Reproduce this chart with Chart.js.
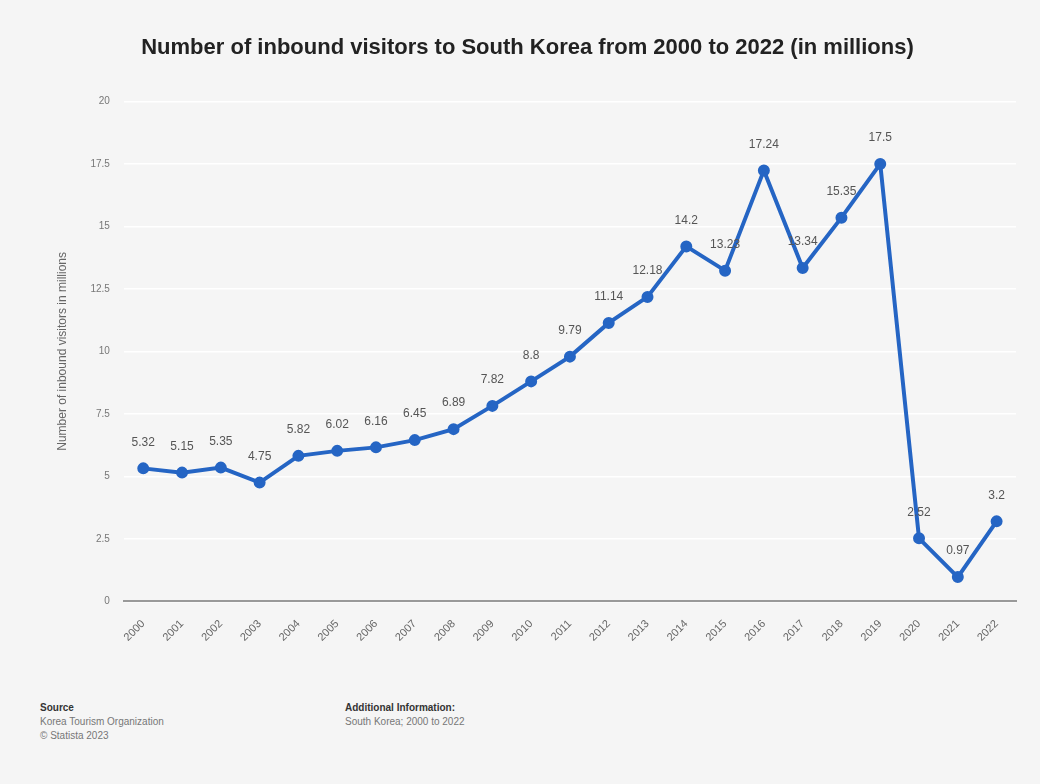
<!DOCTYPE html>
<html>
<head>
<meta charset="utf-8">
<script src="https://cdn.jsdelivr.net/npm/chart.js@4"></script>
<style>
  body { margin: 0; background: #f5f5f5; font-family: "Liberation Sans", Arial, sans-serif; }
  #wrap { position: relative; width: 1040px; height: 784px; }
  #chart-box { position: absolute; left: 0; top: 0; width: 1040px; height: 690px; }
  .foot { position: absolute; font-size: 10px; color: #777; line-height: 14px; }
  .foot b { color: #333; }
</style>
</head>
<body>
<div id="wrap">
  <div id="chart-box"><canvas id="visitors-chart"></canvas></div>
  <div class="foot" style="left:40px; top:701px;"><b>Source</b><br>Korea Tourism Organization<br>© Statista 2023</div>
  <div class="foot" style="left:345px; top:701px;"><b>Additional Information:</b><br>South Korea; 2000 to 2022</div>
</div>
<script>
// data
const years = ["2000", "2001", "2002", "2003", "2004", "2005", "2006", "2007", "2008", "2009", "2010", "2011",
               "2012", "2013", "2014", "2015", "2016", "2017", "2018", "2019", "2020", "2021", "2022"];
const visitors = [5.32, 5.15, 5.35, 4.75, 5.82, 6.02, 6.16, 6.45, 6.89, 7.82, 8.8, 9.79,
                  11.14, 12.18, 14.2, 13.23, 17.24, 13.34, 15.35, 17.5, 2.52, 0.97, 3.2];
const yTicks = [0, 2.5, 5, 7.5, 10, 12.5, 15, 17.5, 20];

const lineColor = "#2565c4";

// value labels above each point
const pointLabels = {
    id: "pointLabels",
    afterDatasetsDraw(chart) {
        const ctx = chart.ctx;
        const meta = chart.getDatasetMeta(0);
        ctx.save();
        ctx.font = "12px 'Liberation Sans', Arial, sans-serif";
        ctx.fillStyle = "#555";
        ctx.textAlign = "center";
        ctx.textBaseline = "bottom";
        meta.data.forEach((pt, i) => {
            ctx.fillText(String(visitors[i]), pt.x, pt.y - 20);
        });
        ctx.restore();
    }
};

const ctx = document.getElementById("visitors-chart").getContext("2d");

new Chart(ctx, {
    type: "line",
    data: {
        labels: years,
        datasets: [{
            label: "Visitors",
            data: visitors,
            borderColor: lineColor,
            backgroundColor: lineColor,
            borderWidth: 4,
            pointRadius: 4,
            pointHoverRadius: 4,
            tension: 0
        }]
    },
    options: {
        responsive: true,
        maintainAspectRatio: false,
        animation: false,
        layout: { padding: { left: 39, right: 24, top: 20, bottom: 38 } },
        plugins: {
            legend: { display: false },
            tooltip: { enabled: false },
            title: {
                display: true,
                text: "Number of inbound visitors to South Korea from 2000 to 2022 (in millions)",
                color: "#222",
                font: { family: "'Liberation Sans', Arial, sans-serif", size: 22, weight: "bold" },
                padding: { top: 15, bottom: 40 }
            }
        },
        scales: {
            x: {
                offset: true,
                grid: { display: false },
                border: { color: "#999", width: 2 },
                ticks: {
                    color: "#666",
                    font: { size: 11 },
                    minRotation: 45,
                    maxRotation: 45,
                    padding: 8
                }
            },
            y: {
                min: 0,
                max: 20,
                afterBuildTicks(axis) {
                    axis.ticks = yTicks.map(v => ({ value: v }));
                },
                grid: { color: "#ffffff", lineWidth: 1.5, drawTicks: false },
                border: { display: false },
                ticks: {
                    color: "#777",
                    font: { size: 10 },
                    padding: 14
                },
                title: {
                    display: true,
                    text: "Number of inbound visitors in millions",
                    color: "#666",
                    font: { size: 12 },
                    padding: { top: 16, bottom: 7 }
                }
            }
        }
    },
    plugins: [pointLabels]
});
</script>
</body>
</html>
